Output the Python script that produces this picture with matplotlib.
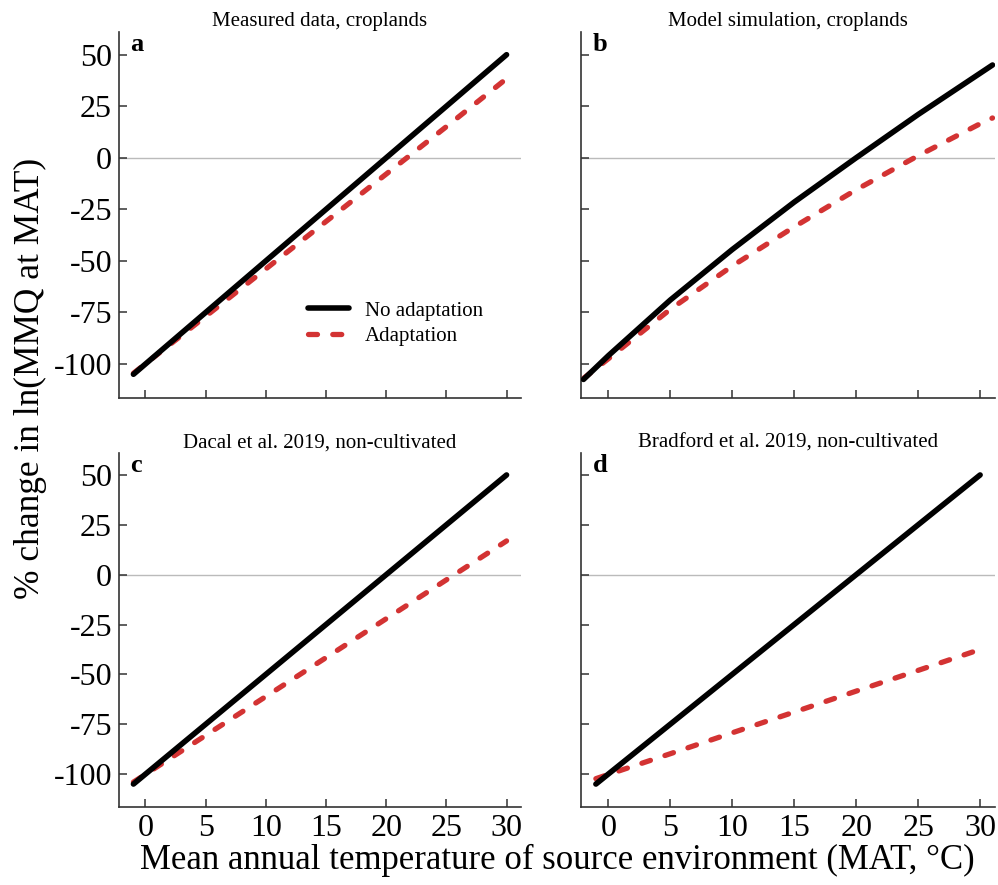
import numpy as np
import matplotlib
matplotlib.use('Agg')
import matplotlib.pyplot as plt

plt.rcParams['font.family'] = ['Liberation Serif', 'DejaVu Serif']
plt.rcParams['axes.unicode_minus'] = False

# source-environment mean annual temperature (deg C)
mat = [-1, 0, 5, 10, 15, 20, 25, 30]
mat_b = [-2, 0, 5, 10, 15, 20, 25, 30, 31]

# % change in ln(MMQ at MAT)
no_adapt_a = [-105, -100, -75, -50, -25, 0, 25, 50]
adapt_a = [-104.5, -99.9, -76.9, -53.9, -30.9, -7.9, 15.1, 38.4]

no_adapt_b = [-107.5, -96, -69, -44.5, -21.5, 0, 21, 41, 45]
adapt_b = [-107, -97.5, -73.5, -52.5, -33.5, -15.5, 1, 16.5, 19.3]

no_adapt_c = [-105, -100, -75, -50, -25, 0, 25, 50]
adapt_c = [-104, -100.1, -80.6, -61.1, -41.6, -22.1, -2.6, 16.9]

no_adapt_d = [-105, -100, -75, -50, -25, 0, 25, 50]
adapt_d = [-102.3, -100.2, -89.8, -79.3, -68.9, -58.4, -48, -37.5]

titles = ['Measured data, croplands', 'Model simulation, croplands',
          'Dacal et al. 2019, non-cultivated', 'Bradford et al. 2019, non-cultivated']
letters = ['a', 'b', 'c', 'd']
xticks = [0, 5, 10, 15, 20, 25, 30]
yticks = [-100, -75, -50, -25, 0, 25, 50]

panels = [(mat, no_adapt_a, adapt_a), (mat_b, no_adapt_b, adapt_b),
          (mat, no_adapt_c, adapt_c), (mat, no_adapt_d, adapt_d)]

W, H = 998, 885
boxes = [(119, 32, 521, 398), (581, 32, 995, 398),
         (119, 453, 521, 807), (581, 453, 995, 807)]

fig = plt.figure(figsize=(W / 100, H / 100), dpi=100)
red = '#d33333'

for i, (x, y0, y1) in enumerate(panels):
    l, t, r, b = boxes[i]
    ax = fig.add_axes([l / W, 1 - b / H, (r - l) / W, (b - t) / H])
    ax.axhline(0, color='#bbbbbb', lw=1.0, zorder=1)
    ax.plot(x, y1, color=red, lw=3.8, dashes=(1.7, 2.9), dash_capstyle='round',
            label='Adaptation', zorder=2)
    ax.plot(x, y0, color='black', lw=4.0, solid_capstyle='round',
            solid_joinstyle='round', label='No adaptation', zorder=3)
    ax.set_xlim(-2.2, 31.2)
    ax.set_ylim(-116.5, 61)
    ax.set_xticks(xticks)
    ax.set_yticks(yticks)
    for s in ['top', 'right']:
        ax.spines[s].set_visible(False)
    for s in ['left', 'bottom']:
        ax.spines[s].set_color('#333333')
        ax.spines[s].set_linewidth(1.2)
    ax.tick_params(direction='in', length=6, width=1.1, color='#333333',
                   labelsize=23, pad=5)
    if i in (1, 3):
        ax.tick_params(labelleft=False)
    if i in (0, 1):
        ax.tick_params(labelbottom=False)
    ax.set_title(titles[i], fontsize=15, pad=4)
    ax.text(0.028, 0.998, letters[i], transform=ax.transAxes, fontsize=19,
            fontweight='bold', va='top', ha='left')
    if i == 0:
        h, lab = ax.get_legend_handles_labels()
        ax.legend(h[::-1], lab[::-1], loc='upper left', bbox_to_anchor=(0.47, 0.265),
                  frameon=False, fontsize=15, handlelength=1.95, handletextpad=0.8,
                  labelspacing=0.3, borderpad=0, borderaxespad=0)

fig.text(30 / W, 1 - 378 / H, '% change in ln(MMQ at MAT)', rotation=90,
         ha='center', va='center', fontsize=25.5)
fig.text(557 / W, 1 - 860 / H, 'Mean annual temperature of source environment (MAT, \u00b0C)',
         ha='center', va='center', fontsize=25)

fig.savefig('out.png', dpi=100)
